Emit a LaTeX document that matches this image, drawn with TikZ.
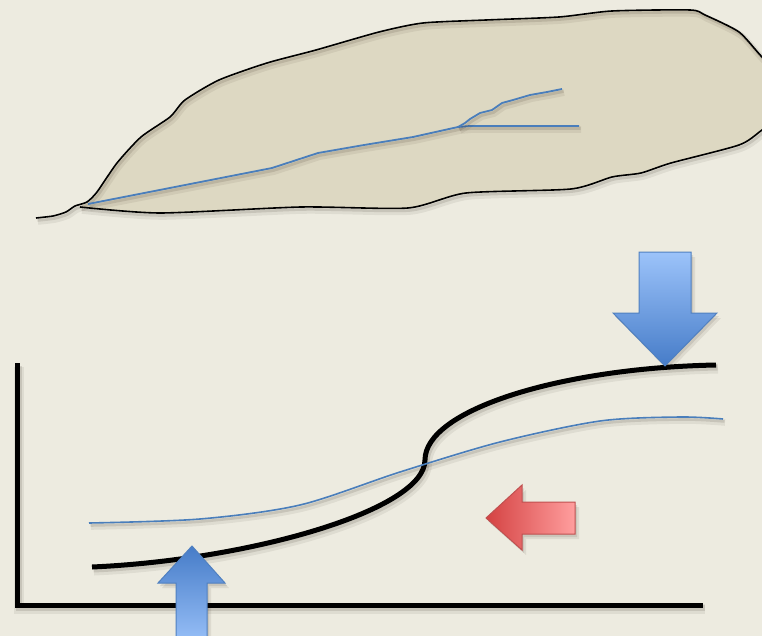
\documentclass[tikz,border=0pt]{standalone}
\usetikzlibrary{arrows.meta}

\definecolor{paper}{RGB}{237,235,224}
\definecolor{leaf}{RGB}{221,216,194}
\definecolor{vein}{RGB}{74,126,187}
\definecolor{arrowdark}{RGB}{70,124,200}
\definecolor{arrowlight}{RGB}{156,195,250}
\definecolor{arrowedge}{RGB}{80,128,192}
\definecolor{reddark}{RGB}{212,66,66}
\definecolor{redlight}{RGB}{255,158,158}
\definecolor{rededge}{RGB}{192,80,80}

\tikzset{
    soft shadow/.style={
        preaction={draw=black!80!brown,opacity=.07,line width=#1+5pt,transform canvas={shift={(2pt,-3.5pt)}}},
        preaction={draw=black!80!brown,opacity=.12,line width=#1+1pt,transform canvas={shift={(1.5pt,-2.5pt)}}},
        line width=#1},
    box shadow/.style={
        preaction={fill=black!80!brown,opacity=.08,transform canvas={shift={(4pt,-5pt)}}},
        preaction={fill=black!80!brown,opacity=.10,transform canvas={shift={(2pt,-3pt)}}}}
}

\begin{document}
\begin{tikzpicture}[x=1pt,y=-1pt]
    \useasboundingbox (0,0) rectangle (762,636);
    \clip (0,0) rectangle (762,636);
    \fill[paper] (0,0) rectangle (762,636);

    \fill[leaf] plot[smooth,tension=.4] coordinates {(87,202) (97,192) (117,163) (141,137) (170,117) (185,100) (219,80) (267,63) (316,50) (379,32) (423,23) (486,20) (559,17) (612,11) (690,10) (705,15) (739,32) (762,57) (800,95)}
        -- plot[smooth,tension=.4] coordinates {(800,100) (762,130) (739,145) (671,163) (641,173) (612,177) (571,189) (466,193) (408,208) (301,207) (160,213) (80,207)} -- cycle;

    \draw[soft shadow=1.6pt,line join=round] plot[smooth,tension=.4] coordinates {(36,218) (53,216) (66,212) (75,206) (87,202) (97,192) (117,163) (141,137) (170,117) (185,100) (219,80) (267,63) (316,50) (379,32) (423,23) (486,20) (559,17) (612,11) (690,10) (705,15) (739,32) (762,57) (800,95)};
    \draw[soft shadow=1.6pt,line join=round] plot[smooth,tension=.4] coordinates {(800,100) (762,130) (739,145) (671,163) (641,173) (612,177) (571,189) (466,193) (408,208) (301,207) (160,213) (80,207)};

    \draw[vein,soft shadow=1.8pt,line join=round] (88,204) -- (272,168) -- (318,153) -- (364,145) -- (413,137) -- (458,127) -- (470,126) -- (579,126);
    \draw[vein,soft shadow=1.8pt,line join=round] (458,127) -- (465,123) -- (470,119) -- (480,113) -- (492,110) -- (502,103) -- (513,100) -- (530,95) -- (547,92) -- (562,89);

    \draw[soft shadow=5pt] (17,363) -- (17,605) -- (703,605);

    \draw[soft shadow=5pt] (92,567) .. controls (250,560) and (425,510) .. (425,460)
        .. controls (425,410) and (560,368) .. (716,365);
    \draw[vein,soft shadow=1.6pt] plot[smooth] coordinates {(89,523) (200,519) (300,505) (400,472) (500,442) (600,421) (680,417) (723,419)};

    \path[box shadow,draw=arrowedge,line width=1pt,top color=arrowlight,bottom color=arrowdark]
        (639,252) -- (691,252) -- (691,313) -- (717,313) -- (665,366) -- (613,313) -- (639,313) -- cycle;
    \path[box shadow,draw=arrowedge,line width=1pt,top color=arrowdark,bottom color=arrowlight]
        (176,648) -- (176,583) -- (158,583) -- (192,546) -- (225,583) -- (207,583) -- (207,648) -- cycle;
    \path[box shadow,draw=rededge,line width=1pt,left color=reddark,right color=redlight]
        (575,502) -- (575,534) -- (522,534) -- (522,550) -- (486,518) -- (522,485) -- (522,502) -- cycle;
\end{tikzpicture}
\end{document}
